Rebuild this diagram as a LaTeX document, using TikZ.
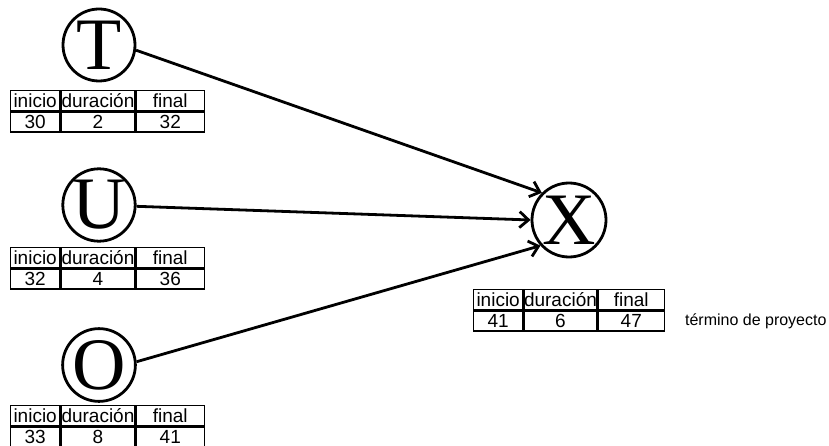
\documentclass[tikz,border=0pt]{standalone}
\usepackage{fontspec}
\setmainfont{Liberation Serif}
\setsansfont{Liberation Sans}
\usetikzlibrary{arrows.meta}
\tikzset{
  evt/.style={circle,draw,line width=2.8pt,minimum size=72pt,inner sep=0pt,font=\fontsize{74}{74}\selectfont},
  cell/.style={draw,line width=1.3pt,minimum height=20pt,inner sep=0pt,anchor=north west,font=\sffamily\fontsize{19}{19}\selectfont},
  conn/.style={line width=2.8pt,-{Straight Barb[length=9pt,width=16pt,line width=2.8pt]}}
}
\newcommand\cpmtable[9]{%
  \node[cell,minimum width=#7] (#1a) at (#2,#3) {inicio};
  \node[cell,minimum width=#8] (#1b) at (#1a.north east) {duración};
  \node[cell,minimum width=#9] (#1c) at (#1b.north east) {final};
  \node[cell,minimum width=#7] (#1d) at (#1a.south west) {#4};
  \node[cell,minimum width=#8] (#1e) at (#1d.north east) {#5};
  \node[cell,minimum width=#9] (#1f) at (#1e.north east) {#6};
}
\begin{document}
\begin{tikzpicture}[x=1pt,y=-1pt]
\useasboundingbox (0,0) rectangle (829,446);
\node[evt] (T) at (99,45) {T};
\node[evt] (U) at (99,205) {U};
\node[evt] (O) at (99,365) {O};
\node[evt,minimum size=74pt] (X) at (569,220) {X};
\cpmtable{tt}{10}{90}{30}{2}{32}{49pt}{74pt}{68pt}
\cpmtable{ut}{10}{247}{32}{4}{36}{49pt}{74pt}{68pt}
\cpmtable{ot}{10}{405}{33}{8}{41}{49pt}{74pt}{68pt}
\cpmtable{xt}{473}{289}{41}{6}{47}{49pt}{73pt}{66pt}
\node[anchor=west,inner sep=0pt,font=\sffamily\fontsize{16}{16}\selectfont] (lbl) at ([xshift=20pt]xtf.east) {término de proyecto};
\draw[conn] (T.-8) -- (X.135);
\draw[conn] (U.-2) -- (X.180);
\draw[conn] (O.5) -- (X.222);
\end{tikzpicture}
\end{document}
